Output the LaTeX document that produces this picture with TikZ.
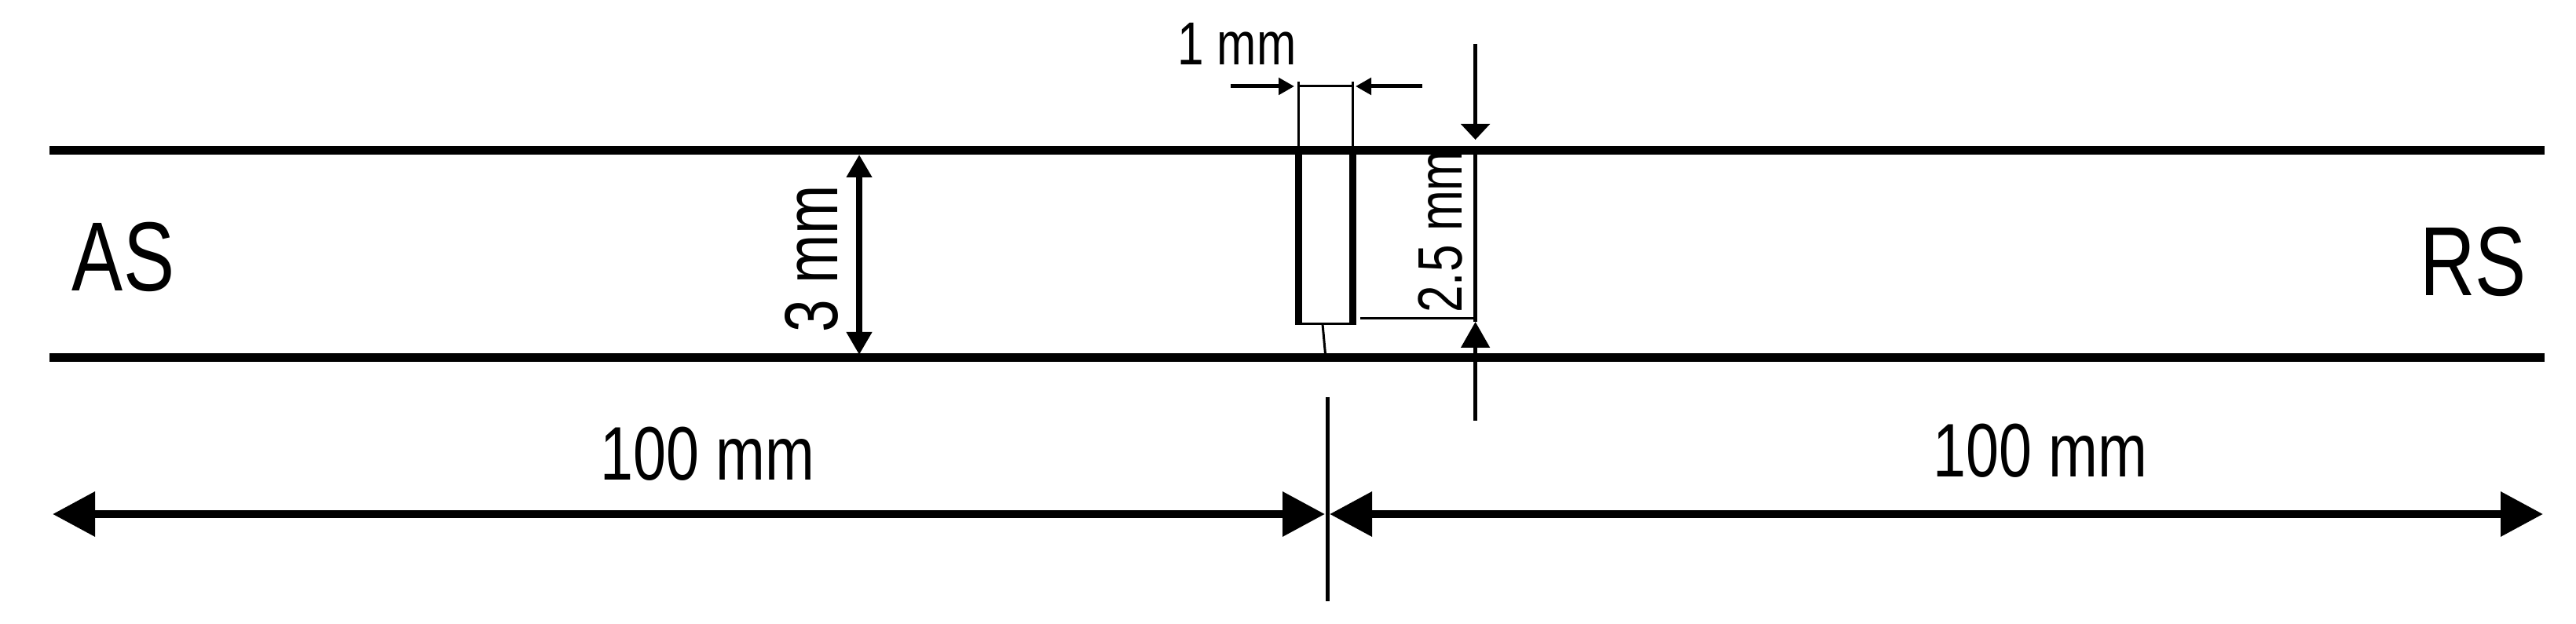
\documentclass[tikz,border=0pt]{standalone}
\usepackage{fontspec}
\setmainfont[FakeStretch=0.78]{Liberation Sans}
\usetikzlibrary{arrows.meta}

\begin{document}
\begin{tikzpicture}

\tikzstyle{plate}=[line width=0.11cm]
\tikzstyle{thin dim}=[line width=0.03cm]
\tikzstyle{mid dim}=[line width=0.05cm]
\tikzstyle{big dim}=[line width=0.1cm, {Triangle[length=0.54cm, width=0.55cm]}-{Triangle[length=0.54cm, width=0.55cm]}]
\tikzstyle{lbl}=[inner sep=0pt]

\useasboundingbox (0,0) rectangle (32.8,7.94);

\coordinate (topl) at (0.63,6.02);
\coordinate (topr) at (32.40,6.02);
\coordinate (botl) at (0.63,3.38);
\coordinate (botr) at (32.40,3.38);

\draw[plate] (topl) -- (topr);
\draw[plate] (botl) -- (botr);

% notch
\coordinate (nl) at (16.53,6.02);
\coordinate (nr) at (17.225,6.02);
\coordinate (nbl) at (16.53,3.81);
\coordinate (nbr) at (17.225,3.81);
\coordinate (tipa) at (16.84,3.81);
\coordinate (tipb) at (16.875,3.43);
\draw[line width=0.09cm] (nl) -- (nbl);
\draw[line width=0.09cm] (nr) -- (nbr);
\draw[thin dim] ([xshift=-0.045cm]nbl) -- ([xshift=0.045cm]nbr);
\draw[thin dim] (tipa) -- (tipb);

% 1 mm
\coordinate (wl) at (16.53,6.84);
\coordinate (wr) at (17.225,6.84);
\coordinate (wla) at (15.67,6.84);
\coordinate (wrb) at (18.11,6.84);
\draw[thin dim] (nl) -- (16.53,6.90);
\draw[thin dim] (nr) -- (17.225,6.90);
\draw[thin dim] (wl) -- (wr);
\draw[mid dim, -{Triangle[length=0.2cm, width=0.21cm]}] (wla) -- (16.48,6.84);
\draw[mid dim, -{Triangle[length=0.2cm, width=0.21cm]}] (wrb) -- (17.26,6.84);
\node[lbl, font=\fontsize{22}{22}\selectfont] (onemm) at (15.75,7.38) {1 mm};

% 3 mm
\coordinate (ha) at (10.94,5.97);
\coordinate (hb) at (10.94,3.42);
\draw[line width=0.08cm, {Triangle[length=0.29cm, width=0.31cm]}-{Triangle[length=0.29cm, width=0.31cm]}] (ha) -- (hb);
\node[lbl, rotate=90, font=\fontsize{27.3}{27.3}\selectfont] (threemm) at (10.33,4.64) {3 mm};

% 2.5 mm
\coordinate (da) at (18.786,7.38);
\coordinate (db) at (18.786,6.16);
\coordinate (dc) at (18.786,3.84);
\coordinate (dd) at (18.786,2.58);
\coordinate (de) at (17.32,3.88);
\draw[mid dim, -{Triangle[length=0.2cm, width=0.36cm]}] (da) -- (db);
\draw[mid dim, -{Triangle[length=0.33cm, width=0.36cm]}] (dd) -- (dc);
\draw[mid dim] (18.786,6.07) -- (dc);
\draw[thin dim] (de) -- (18.786,3.88);
\node[lbl, rotate=90, font=\fontsize{22.7}{22.7}\selectfont] (twofive) at (18.34,4.99) {2.5 mm};

% 100 mm
\coordinate (cen) at (16.90,1.39);
\coordinate (cenup) at (16.90,2.88);
\coordinate (cendn) at (16.90,0.28);
\coordinate (arl) at (0.67,1.39);
\coordinate (arr) at (32.38,1.39);
\draw[line width=0.05cm] (cenup) -- (cendn);
\draw[big dim] (arl) -- ([xshift=-0.03cm]cen);
\draw[big dim] ([xshift=0.03cm]cen) -- (arr);
\node[lbl, font=\fontsize{27.5}{27.5}\selectfont] (lhun) at (9.01,2.16) {100 mm};
\node[lbl, font=\fontsize{27.5}{27.5}\selectfont] (rhun) at (25.98,2.20) {100 mm};

\node[lbl, font=\fontsize{35.6}{35.6}\selectfont] (as) at (1.57,4.67) {AS};
\node[lbl, font=\fontsize{35.6}{35.6}\selectfont] (rs) at (31.49,4.61) {RS};

\end{tikzpicture}
\end{document}
